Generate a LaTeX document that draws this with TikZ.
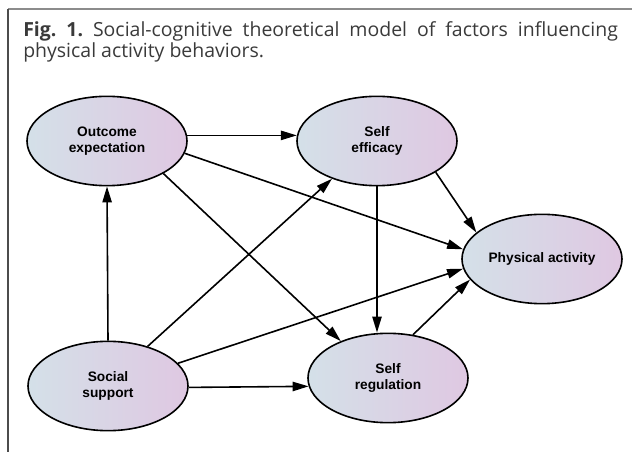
\documentclass[tikz,border=0pt]{standalone}
\usepackage{fontspec}
\setmainfont{Liberation Sans}
\newfontfamily\capfont{Open Sans}
\usetikzlibrary{shapes.geometric,arrows.meta}

\definecolor{ellleft}{HTML}{D4E0E8}
\definecolor{ellright}{HTML}{DFC8E2}
\definecolor{capgray}{HTML}{3A3A3A}
\definecolor{framegray}{HTML}{8C8C8C}

\tikzset{
  factor/.style={ellipse,draw,line width=1.2pt,inner sep=0pt,
    minimum width=120pt,minimum height=67pt,
    left color=ellleft,right color=ellright,align=center,
    font=\fontsize{10.3}{11.8}\selectfont\bfseries},
  link/.style={line width=1.2pt,-{Triangle[length=12pt,width=7pt]}}
}

\begin{document}
\frenchspacing
\begin{tikzpicture}[x=0.75pt,y=-0.75pt]
  \useasboundingbox (0,0) rectangle (632,452);
  % frame
  \draw[framegray,line width=1.5pt] (8,9) -- (632,9);
  \draw[black!70,line width=1pt] (8,9) -- (8,452);
  % caption
  \node[anchor=base west,text width=446pt,align=justify,inner sep=0pt,
    font=\capfont\fontsize{14.6}{14.5}\selectfont,text=capgray] (caption) at (23,37)
    {\textbf{Fig. 1.} Social-cognitive theoretical model of factors influencing\linebreak physical activity behaviors.};
  % factors
  \node[factor] (oe) at (107,141) {Outcome\\expectation};
  \node[factor] (se) at (377,141) {Self\\efficacy};
  \node[factor] (pa) at (542,259) {Physical activity};
  \node[factor] (ss) at (108,386) {Social\\support};
  \node[factor] (sr) at (388,378) {Self\\regulation};
  % paths
  \draw[link] (oe.4) -- (se.176);
  \draw[link] (oe.-9) -- (pa.173);
  \draw[link] (oe.-30) -- (sr.142);
  \draw[link] (ss.north) -- (oe.south);
  \draw[link] (ss.45) -- (se.220);
  \draw[link] (ss.18) -- (pa.187);
  \draw[link] (ss.-1) -- (sr.186);
  \draw[link] (se.-28) -- (pa.158);
  \draw[link] (se.south) -- (se.south |- sr.north);
  \draw[link] (sr.60) -- (pa.196);
\end{tikzpicture}
\end{document}
